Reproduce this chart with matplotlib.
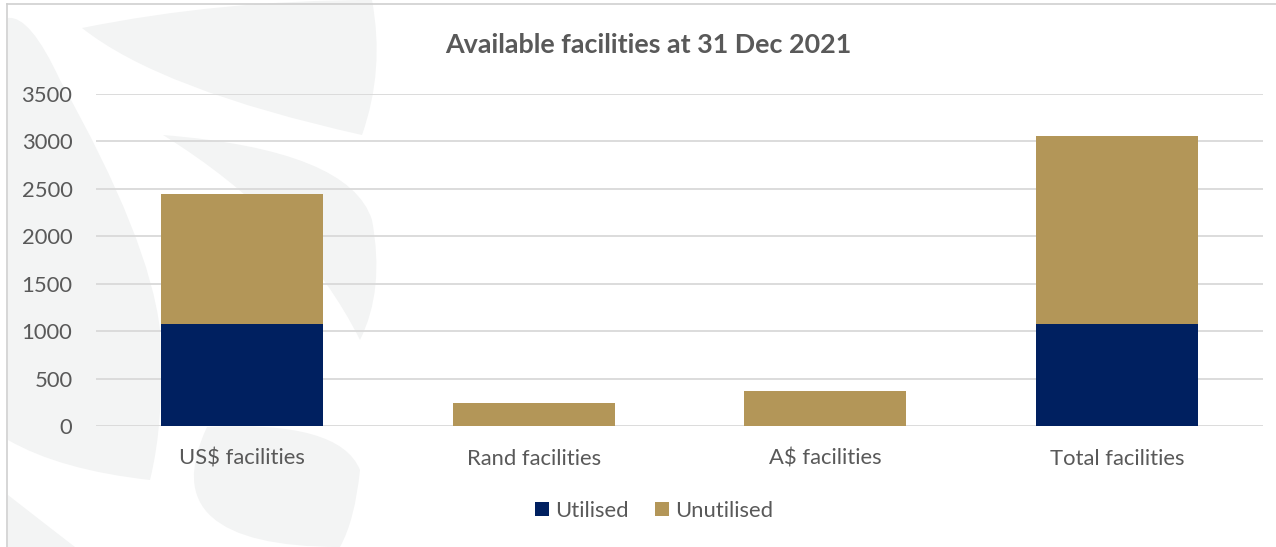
import matplotlib
matplotlib.use("Agg")
import matplotlib.pyplot as plt
import matplotlib.patches as patches
from matplotlib.path import Path
import numpy as np

# Facilities at 31 Dec 2021 (millions)
categories = ["US$ facilities", "Rand facilities", "A$ facilities", "Total facilities"]
utilised = [1075, 0, 0, 1075]
unutilised = [1367, 243, 370, 1980]

NAVY = "#002060"
GOLD = "#B39658"
TEXT = "#595959"
GRID = "#D9D9D9"
FONT = "Lato"

W, H = 1276, 547
fig = plt.figure(figsize=(W / 100, H / 100), dpi=100)
fig.patch.set_facecolor("white")

# background layer in pixel coords (top-left origin) for the faint leaf watermark
bg = fig.add_axes([0, 0, 1, 1], zorder=-10)
bg.set_xlim(0, W)
bg.set_ylim(H, 0)
bg.axis("off")


def leaf(start, segments):
    """closed shape from quadratic curve segments: each is (control, end)"""
    verts = [start]
    codes = [Path.MOVETO]
    for ctrl, end in segments:
        verts += [ctrl, end]
        codes += [Path.CURVE3, Path.CURVE3]
    verts.append(start)
    codes.append(Path.CLOSEPOLY)
    return Path(verts, codes)


leaves = [
    # top leaf
    leaf((82, 28), [((220, 0), (372, 0)), ((385, 70), (362, 135)), ((160, 90), (82, 28))]),
    # middle leaf
    leaf((163, 135), [((350, 150), (372, 220)), ((385, 290), (360, 340)), ((300, 220), (163, 135))]),
    # left sweep
    leaf((8, 18), [((30, 15), (60, 80)), ((150, 240), (160, 330)), ((165, 420), (150, 480)),
                   ((60, 470), (8, 440))]),
    # lower leaf
    leaf((207, 427), [((340, 420), (360, 470)), ((355, 520), (340, 547)), ((150, 547), (207, 427))]),
    # bottom corner
    leaf((8, 495), [((40, 520), (75, 547)), ((40, 547), (8, 547))]),
]
for p in leaves:
    bg.add_patch(patches.PathPatch(p, facecolor="#F3F4F4", edgecolor="none"))

# chart border (left and top visible)
bg.plot([7, 7], [4, H], color="#CFCFCF", lw=1.2)
bg.plot([7, W], [4, 4], color="#CFCFCF", lw=1.2)

ax = fig.add_axes([96 / W, 1 - 426 / H, (1263 - 96) / W, (426 - 94) / H])
ax.patch.set_alpha(0)

x = np.arange(len(categories))
bw = 0.555
ax.bar(x, utilised, bw, color=NAVY, label="Utilised", zorder=3)
ax.bar(x, unutilised, bw, bottom=utilised, color=GOLD, label="Unutilised", zorder=3)

ax.set_xlim(-0.5, len(categories) - 0.5)
ax.set_ylim(0, 3500)
ax.set_yticks(np.arange(0, 3501, 500))
ax.set_xticks(x)
ax.set_xticklabels(categories)
ax.grid(axis="y", color=GRID, lw=1.3, zorder=0)
ax.set_axisbelow(True)
for s in ax.spines.values():
    s.set_visible(False)
ax.tick_params(axis="both", length=0, labelsize=15.8, labelcolor=TEXT)
ax.tick_params(axis="y", pad=17)
ax.tick_params(axis="x", pad=16.5)
for lab in ax.get_xticklabels() + ax.get_yticklabels():
    lab.set_fontfamily(FONT)

fig.text(648 / W, 1 - 45 / H, "Available facilities at 31 Dec 2021", ha="center", va="center",
         fontsize=19.4, fontweight="bold", color=TEXT, family=FONT)

leg = ax.legend(loc="center", bbox_to_anchor=(654 / W, 1 - 511 / H), bbox_transform=fig.transFigure,
                ncol=2, frameon=False, handlelength=0.62, handleheight=0.62,
                handletextpad=0.3, columnspacing=1.2, prop={"family": FONT, "size": 15.8})
for t in leg.get_texts():
    t.set_color(TEXT)

fig.savefig("out.png", dpi=100, facecolor="white")
